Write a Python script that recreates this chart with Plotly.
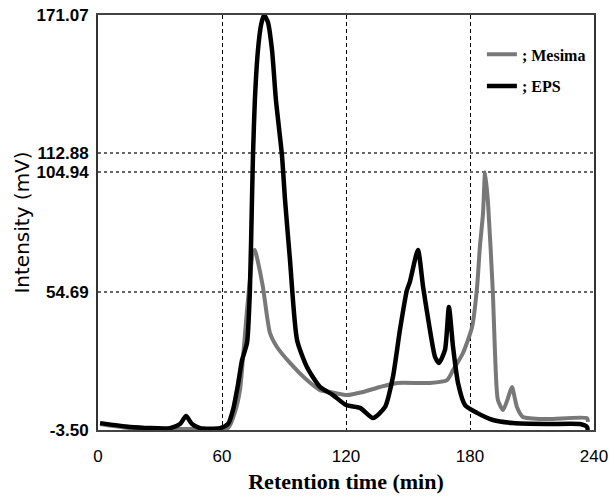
import plotly.graph_objects as go

# Elution profiles (retention time in min, detector signal in mV)
eps_time = [1.0, 15.5, 34.8, 39.7, 42.6, 45.5, 49.4, 59.0, 62.9, 65.3, 67.7, 69.7, 72.1,
            73.5, 74.5, 75.0, 75.9, 77.4, 78.9, 80.3, 82.2, 84.2, 86.1, 89.0, 90.5, 92.9,
            96.3, 101.1, 107.4, 113.7, 120.0, 126.8, 133.1, 138.9, 142.7, 146.1, 149.5,
            150.9, 154.8, 157.3, 160.6, 163.1, 165.0, 167.9, 169.8, 171.8, 174.2, 177.6,
            183.4, 191.1, 200.8, 217.2, 233.2, 236.6, 237.0]
eps_signal = [-0.6, -2.2, -2.7, -1.0, 2.4, -1.0, -2.7, -2.7, -1.0, 4.9, 15.4, 25.9, 33.1,
              55.4, 93.3, 112.2, 135.3, 156.3, 166.9, 171.07, 168.1, 156.3, 135.3, 112.2,
              93.3, 68.0, 34.4, 23.0, 14.6, 11.2, 7.0, 5.8, 1.5, 6.2, 18.8, 38.6, 55.4,
              58.8, 72.2, 56.7, 38.6, 27.2, 24.7, 30.2, 48.2, 31.4, 16.3, 7.0, 3.7, 0.7,
              -0.6, -1.0, -1.0, -2.2, -3.5]

mesima_time = [1.0, 15.5, 49.4, 62.9, 66.3, 68.7, 70.2, 72.1, 73.5, 75.0, 75.9, 77.4, 79.8,
               83.2, 86.6, 92.9, 101.1, 107.4, 112.3, 120.5, 128.2, 136.4, 144.7, 160.6,
               168.9, 171.8, 176.6, 181.0, 183.4, 184.8, 186.3, 187.3, 188.7, 191.1, 192.1,
               193.5, 196.0, 198.4, 200.3, 202.7, 205.6, 217.2, 236.6, 237.1]
mesima_signal = [-1.0, -2.7, -3.1, -2.7, 4.1, 13.3, 27.2, 47.0, 59.6, 71.4, 72.2, 67.2, 56.7,
                 37.3, 31.4, 24.7, 17.5, 13.3, 12.5, 11.2, 12.5, 14.6, 16.3, 16.3, 17.5,
                 21.7, 28.9, 39.8, 56.4, 73.7, 87.6, 104.94, 92.3, 53.6, 28.9, 9.1, 4.9,
                 10.0, 14.6, 6.2, 2.0, 1.1, 1.5, -0.1]

x_ticks = [0, 60, 120, 180, 240]
y_ticks = [-3.50, 54.69, 104.94, 112.88, 171.07]
y_tick_labels = ["-3.50", "54.69", "104.94", "112.88", "171.07"]

fig = go.Figure()
fig.add_trace(go.Scatter(
    x=mesima_time, y=mesima_signal, mode="lines", name="; Mesima",
    line=dict(color="#787878", width=4, shape="spline", smoothing=0.6),
    legendgroup="m",
))
fig.add_trace(go.Scatter(
    x=eps_time, y=eps_signal, mode="lines", name="; EPS",
    line=dict(color="#000000", width=4.5, shape="spline", smoothing=0.6),
    legendgroup="e",
))

fig.update_layout(
    width=612, height=496,
    margin=dict(l=98, r=18, t=15, b=66),
    paper_bgcolor="white", plot_bgcolor="white",
    showlegend=True,
    legend=dict(
        x=0.774, y=0.946, xanchor="left", yanchor="top",
        bgcolor="rgba(0,0,0,0)", borderwidth=0,
        font=dict(family="Liberation Serif, Times New Roman, serif", size=16,
                  color="black", weight="bold"),
        itemwidth=30, tracegroupgap=8, traceorder="grouped",
    ),
    xaxis=dict(
        range=[0, 240], tickvals=x_ticks, automargin=False,
        showline=True, mirror=True, linecolor="#444444", linewidth=2,
        showgrid=True, gridcolor="#000000", gridwidth=1, griddash="4px,3px",
        zeroline=False,
        ticks="outside", ticklen=10, tickcolor="rgba(0,0,0,0)",
        tickfont=dict(family="Liberation Sans, Arial, sans-serif",
                      size=17, color="black"),
        title=dict(text="Retention time (min)", standoff=8,
                   font=dict(family="Liberation Serif, Times New Roman, serif",
                             size=22, color="black", weight="bold")),
    ),
    yaxis=dict(
        range=[-3.5, 171.07], tickvals=y_ticks, ticktext=y_tick_labels, automargin=False,
        showline=True, mirror=True, linecolor="#333333", linewidth=2,
        showgrid=True, gridcolor="#666666", gridwidth=2, griddash="3px,3px",
        zeroline=False,
        ticks="outside", ticklen=4, tickcolor="rgba(0,0,0,0)",
        tickfont=dict(family="Liberation Sans, Arial, sans-serif",
                      size=17, color="black", weight="bold"),
        title=dict(text="Intensity (mV)", standoff=2,
                   font=dict(family="DejaVu Sans, sans-serif", size=20, color="black")),
    ),
)

fig.write_html("out.html")
